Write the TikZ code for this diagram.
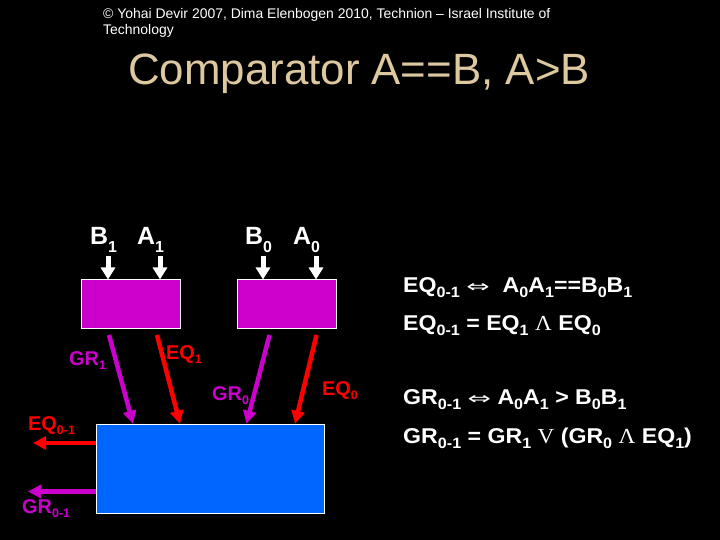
\documentclass[tikz,border=0pt]{standalone}
\usepackage{fontspec}
\setmainfont{Liberation Sans}
\newfontfamily\symfont{DejaVu Sans}
\newfontfamily\serifont{Liberation Serif}
\usetikzlibrary{arrows.meta}
\definecolor{mag}{RGB}{204,0,204}
\definecolor{blu}{RGB}{0,102,255}
\definecolor{tan}{RGB}{222,200,160}
\definecolor{red}{RGB}{255,0,0}
% subscript: size, drop, text
\newcommand\lowr[3]{\raisebox{-#2bp}{\fontsize{#1}{#1}\selectfont #3}}
\newcommand\sbi[1]{\lowr{15}{5}{#1}}
\newcommand\sbl[1]{\lowr{12.5}{4}{#1}}
\newcommand\eqv{{\symfont\fontsize{20}{20}\selectfont\mdseries\scalebox{1.3}[0.85]{⇔}}}
\newcommand\andd{{\serifont\mdseries Λ}}
\newcommand\orr{{\serifont\mdseries V}}
\tikzset{
  warrow/.style={draw=white, line width=5bp, -{Triangle[width=14bp,length=12bp]}},
  rarrow/.style={draw=red, line width=4.5bp, -{Triangle[width=13bp,length=13bp]}},
  marrow/.style={draw=mag, line width=4.5bp, -{Triangle[width=13bp,length=13bp]}},
  gate/.style={draw=white, line width=1bp, fill=mag, minimum width=99bp, minimum height=48bp, inner sep=0pt},
  inlbl/.style={text=white, font=\fontsize{25}{25}\selectfont\bfseries, anchor=base west, inner sep=0pt},
  rlbl/.style={text=red, font=\fontsize{20}{20}\selectfont\bfseries, anchor=base west, inner sep=0pt},
  mlbl/.style={text=mag, font=\fontsize{20}{20}\selectfont\bfseries, anchor=base west, inner sep=0pt},
  eqn/.style={text=white, font=\fontsize{21.5}{21.5}\selectfont\bfseries, anchor=base west, inner sep=0pt},
}
\begin{document}
\begin{tikzpicture}[x=1bp,y=-1bp]
\fill[black] (0,0) rectangle (720,540);
\useasboundingbox (0,0) rectangle (720,540);
% header
\node[anchor=base west, inner sep=0pt, text=white, font=\fontsize{14}{16}\selectfont] (copy1) at (103,19) {© Yohai Devir 2007, Dima Elenbogen 2010, Technion – Israel Institute of};
\node[anchor=base west, inner sep=0pt, text=white, font=\fontsize{14}{16}\selectfont] (copy2) at (103,35) {Technology};
\node[anchor=base west, inner sep=0pt, text=tan, font=\fontsize{44}{44}\selectfont] (title) at (128,85) {Comparator A==B, A>B};
% gates
\node[gate] (g1) at (130.5,304) {};
\node[gate] (g0) at (286.5,304) {};
\node[draw=white, line width=1bp, fill=blu, minimum width=227.5bp, minimum height=89.5bp, inner sep=0pt] (cmp) at (210.5,469) {};
% input labels
\node[inlbl] (lb1) at (90,245) {B\lowr{16}{8}{1}};
\node[inlbl] (la1) at (137,245) {A\lowr{16}{8}{1}};
\node[inlbl] (lb0) at (245,245) {B\lowr{16}{8}{0}};
\node[inlbl] (la0) at (293,245) {A\lowr{16}{8}{0}};
\coordinate (b1s) at (108,256);
\coordinate (a1s) at (160,256);
\coordinate (b0s) at (263,256);
\coordinate (a0s) at (316,256);
\draw[warrow] (b1s) -- (b1s |- g1.north);
\draw[warrow] (a1s) -- (a1s |- g1.north);
\draw[warrow] (b0s) -- (b0s |- g0.north);
\draw[warrow] (a0s) -- (a0s |- g0.north);
% intermediate signals
\coordinate (gr1s) at (109,335);
\coordinate (eq1s) at (157,335);
\coordinate (gr0s) at (269.5,335);
\coordinate (eq0s) at (316.5,335);
\coordinate (gr1e) at (133,424);
\coordinate (eq1e) at (180,424);
\coordinate (gr0e) at (246.5,424);
\coordinate (eq0e) at (295,424);
\draw[marrow] (gr1s) -- (gr1e |- cmp.north);
\draw[rarrow] (eq1s) -- (eq1e |- cmp.north);
\draw[marrow] (gr0s) -- (gr0e |- cmp.north);
\draw[rarrow] (eq0s) -- (eq0e |- cmp.north);
\node[mlbl] (lgr1) at (69,365) {GR\sbl{1}};
\node[rlbl] (leq1) at (166,359) {EQ\sbl{1}};
\node[mlbl] (lgr0) at (212,400) {GR\sbl{0}};
\node[rlbl] (leq0) at (322,395) {EQ\sbl{0}};
% outputs
\coordinate (eqo) at (33,443);
\coordinate (gro) at (28,491.5);
\draw[rarrow] (cmp.west |- eqo) -- (eqo);
\draw[marrow] (cmp.west |- gro) -- (gro);
\node[rlbl] (leqo) at (28,430) {EQ\sbl{0-1}};
\node[mlbl] (lgro) at (22,513) {GR\sbl{0-1}};
% equations
\node[eqn] (e1) at (403,292) {\scalebox{1.08}[1]{EQ\sbi{0-1} \eqv\ \ A\sbi{0}A\sbi{1}==B\sbi{0}B\sbi{1}}};
\node[eqn] (e2) at (403,330) {\scalebox{1.08}[1]{EQ\sbi{0-1} = EQ\sbi{1} \andd{} EQ\sbi{0}}};
\node[eqn] (e3) at (403,404) {\scalebox{1.08}[1]{GR\sbi{0-1} \eqv{} A\sbi{0}A\sbi{1} > B\sbi{0}B\sbi{1}}};
\node[eqn] (e4) at (403,443) {\scalebox{1.08}[1]{GR\sbi{0-1} = GR\sbi{1} \orr{} (GR\sbi{0} \andd{} EQ\sbi{1})}};
\end{tikzpicture}
\end{document}
